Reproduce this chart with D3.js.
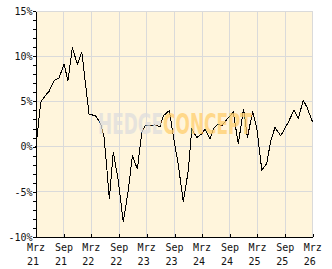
<!DOCTYPE html>
<html>
<head>
<meta charset="utf-8">
<script src="https://cdn.jsdelivr.net/npm/d3@7"></script>
<style>
  body { margin: 0; background: #fff; }
  svg { display: block; }
  .lbl { font-family: "DejaVu Sans Mono", monospace; font-size: 10px; fill: #111; }
</style>
</head>
<body>
<svg id="chart" width="332" height="269"></svg>
<script>
// performance since inception
const dates = [
  '2021-03-01', '2021-04-01', '2021-04-29', '2021-05-26', '2021-06-28', '2021-07-31',
  '2021-09-02', '2021-09-28', '2021-10-27', '2021-11-29', '2021-12-28', '2022-02-14',
  '2022-03-08', '2022-03-30', '2022-05-02', '2022-05-24', '2022-06-11', '2022-06-28',
  '2022-07-24', '2022-08-26', '2022-09-28', '2022-10-31', '2022-11-27', '2022-12-30',
  '2023-01-28', '2023-02-18', '2023-04-25', '2023-05-28', '2023-06-19', '2023-07-29',
  '2023-08-29', '2023-09-26', '2023-10-29', '2023-12-01', '2023-12-24', '2024-01-26',
  '2024-02-28', '2024-03-20', '2024-04-22', '2024-05-14', '2024-06-16', '2024-07-09',
  '2024-08-11', '2024-09-23', '2024-10-26', '2024-11-30', '2024-12-25', '2025-01-29',
  '2025-02-25', '2025-03-30', '2025-05-02', '2025-05-28', '2025-06-25', '2025-08-02',
  '2025-09-21', '2025-10-29', '2025-11-26', '2025-12-29', '2026-01-21', '2026-03-01'
]
const values = [
  0.0, 4.9, 5.6, 6.1, 7.3, 7.6,
  9.1, 7.3, 10.95, 9.1, 10.5, 3.6,
  3.5, 3.4, 2.5, 1.0, -2.3, -5.8,
  -0.6, -3.75, -8.35, -4.85, -1.0, -2.5,
  1.6, 2.3, 2.4, 2.2, 3.4, 4.0,
  0.66, -2.0, -6.1, -2.65, 1.95, 1.0,
  1.4, 1.95, 0.85, 1.95, 2.5, 2.3,
  3.0, 3.8, 0.3, 4.2, 1.0, 3.9,
  2.1, -2.6, -1.85, 0.66, 2.1, 1.2,
  2.7, 4.05, 3.15, 5.1, 4.4, 2.7
]
const yTicks = [-10, -5, 0, 5, 10, 15]
const monthNames = ['Jan', 'Feb', 'Mrz', 'Apr', 'Mai', 'Jun', 'Jul', 'Aug', 'Sep', 'Okt', 'Nov', 'Dez']
const watermark = ['HEDGE', 'CONCEPT']

const parse = d3.timeParse('%Y-%m-%d')
const data = dates.map((d, i) => ({ date: parse(d), v: values[i] }))

const svg = d3.select('#chart')
const plotLeft = 36, plotRight = 312.7, plotTop = 11, plotBottom = 237

const start = parse('2021-03-01'), end = parse('2026-03-01')
const x = d3.scaleTime().domain([start, end]).range([plotLeft, plotRight])
const y = d3.scaleLinear().domain([-10, 15]).range([plotBottom, plotTop])
const xTicks = d3.timeMonth.range(start, d3.timeDay.offset(end, 1), 6)

// plot background
svg.append('rect')
  .attr('x', plotLeft).attr('y', plotTop)
  .attr('width', plotRight - plotLeft).attr('height', plotBottom - plotTop)
  .attr('fill', '#fff5dc')

// grid
let grid = svg.append('g').attr('shape-rendering', 'crispEdges')
grid.selectAll('line.v')
  .data(xTicks.slice(1))
  .join('line')
  .attr('class', 'v')
  .attr('x1', d => x(d)).attr('x2', d => x(d))
  .attr('y1', plotTop).attr('y2', plotBottom)
  .attr('stroke', '#dadada')
grid.selectAll('line.h')
  .data(yTicks.slice(1))
  .join('line')
  .attr('class', 'h')
  .attr('x1', plotLeft).attr('x2', plotRight)
  .attr('y1', d => y(d)).attr('y2', d => y(d))
  .attr('stroke', '#dadada')

// performance line
svg.append('path')
  .datum(data)
  .attr('fill', 'none')
  .attr('stroke', '#000')
  .attr('stroke-width', 1)
  .attr('shape-rendering', 'crispEdges')
  .attr('d', d3.line().x(d => x(d.date)).y(d => y(d.v)))

// watermark sits over the line, squeezed to fit its box
let wm = svg.append('text')
  .attr('opacity', 0.75)
  .style('font-family', '"Liberation Sans Narrow", "DejaVu Sans Condensed", sans-serif')
  .style('font-weight', 'bold')
  .style('font-size', '31px')
wm.append('tspan').text(watermark[0]).attr('fill', '#dedede')
wm.append('tspan').text(watermark[1]).attr('fill', '#ffcf6e')
let wmWidth = wm.node().getComputedTextLength()
wm.attr('transform', `translate(98,133.5) scale(${154 / wmWidth},0.9)`)

// y axis
let yAxis = svg.append('g')
  .attr('transform', `translate(${plotLeft},0)`)
  .call(d3.axisLeft(y)
    .tickValues(d3.range(-10, 16))
    .tickSize(3).tickSizeOuter(0).tickPadding(0.5)
    .tickFormat(d => d % 5 === 0 ? d + '%' : ''))
yAxis.attr('font-family', null).attr('font-size', null)
yAxis.selectAll('line, path').attr('stroke', '#000').attr('shape-rendering', 'crispEdges')
yAxis.selectAll('text').attr('class', 'lbl').attr('fill', null)

// x axis, ticks point into the plot
let xAxis = svg.append('g')
  .attr('transform', `translate(0,${plotBottom})`)
  .call(d3.axisBottom(x).tickValues(xTicks).tickSize(-3).tickSizeOuter(0).tickFormat(''))
xAxis.selectAll('line, path').attr('stroke', '#000').attr('shape-rendering', 'crispEdges')

let xl = svg.append('g')
xl.selectAll('text')
  .data(xTicks)
  .join('text')
  .attr('class', 'lbl')
  .each(function (d) {
    let t = d3.select(this)
    let px = x(d) - 9
    t.append('tspan').attr('x', px).attr('y', 251).text(monthNames[d.getMonth()])
    t.append('tspan').attr('x', px).attr('y', 265).text(d3.timeFormat('%y')(d))
  })
</script>
</body>
</html>
